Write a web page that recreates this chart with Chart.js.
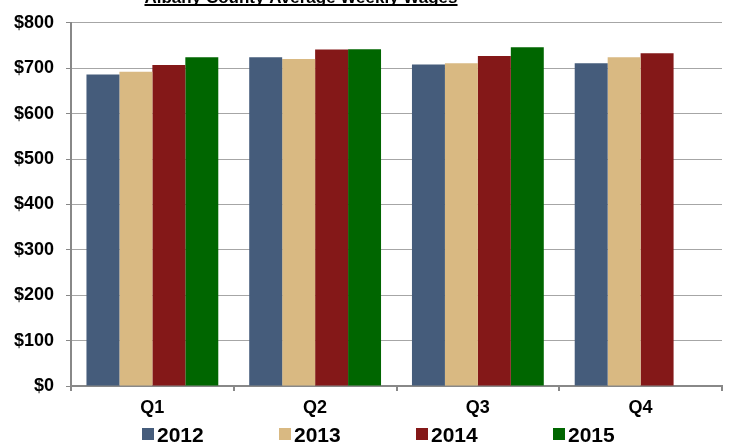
<!DOCTYPE html>
<html>
<head>
<meta charset="utf-8">
<script src="https://cdn.jsdelivr.net/npm/chart.js@4/dist/chart.umd.min.js"></script>
<style>
  html, body { margin: 0; padding: 0; background: #ffffff; }
  #wrap { width: 731px; height: 445px; position: relative; }
</style>
</head>
<body>
<div id="wrap"><canvas id="c" width="731" height="445"></canvas></div>
<script>
const titleText = "Albany County Average Weekly Wages";
const categories = ["Q1", "Q2", "Q3", "Q4"];
const seriesNames = ["2012", "2013", "2014", "2015"];
const values2012 = [686, 724, 708, 711];
const values2013 = [692, 720, 711, 724];
const values2014 = [707, 741, 727, 733];
const values2015 = [724, 742, 746, null];
const seriesColors = ["#455c7b", "#d9b982", "#841818", "#006600"];
const yMin = 0, yMax = 800, yStep = 100;

const FONT = "'Liberation Sans', Arial, Helvetica, sans-serif";

const titlePlugin = {
  id: 'topTitle',
  afterDraw(chart) {
    const ctx = chart.ctx;
    ctx.save();
    ctx.font = "bold 17px " + FONT;
    ctx.fillStyle = "#000";
    ctx.textAlign = "center";
    ctx.textBaseline = "alphabetic";
    const cx = 301;
    ctx.fillText(titleText, cx, 2.5);
    const w = ctx.measureText(titleText).width;
    ctx.fillRect(cx - w / 2, 4, w, 2);
    ctx.restore();
  }
};

const legendPlugin = {
  id: 'bottomLegend',
  afterDraw(chart) {
    const ctx = chart.ctx;
    ctx.save();
    ctx.font = "bold 21px " + FONT;
    ctx.textAlign = "left";
    ctx.textBaseline = "alphabetic";
    chart.data.datasets.forEach((ds, i) => {
      const x = 142 + i * 137;
      ctx.fillStyle = ds.backgroundColor;
      ctx.fillRect(x, 428, 12, 12);
      ctx.fillStyle = "#000";
      ctx.fillText(ds.label, x + 15, 441.5);
    });
    ctx.restore();
  }
};

const allValues = [values2012, values2013, values2014, values2015];

new Chart(document.getElementById('c'), {
  type: 'bar',
  data: {
    labels: categories,
    datasets: seriesNames.map((name, i) => ({
      label: name,
      data: allValues[i],
      backgroundColor: seriesColors[i],
      borderWidth: 0,
      categoryPercentage: 0.81,
      barPercentage: 1.0
    }))
  },
  options: {
    responsive: false,
    animation: false,
    devicePixelRatio: 1,
    layout: { padding: { left: 0, right: 9, top: 18, bottom: 0 } },
    plugins: {
      legend: { display: false },
      title: { display: false },
      tooltip: { enabled: false }
    },
    scales: {
      x: {
        afterFit(scale) { scale.height = 59; },
        grid: {
          display: true,
          drawOnChartArea: false,
          drawTicks: true,
          tickLength: 5,
          color: "#888888",
          lineWidth: 2,
          offset: true
        },
        border: { display: true, color: "#888888", width: 2 },
        ticks: {
          color: "#000",
          font: { family: FONT, size: 18, weight: 'bold' },
          padding: 6,
          maxRotation: 0
        }
      },
      y: {
        min: yMin,
        max: yMax,
        afterFit(scale) { scale.width = 71; },
        grid: {
          color: "#a6a6a6",
          lineWidth: 1,
          drawTicks: true,
          tickLength: 5,
          tickColor: "#888888"
        },
        border: { display: true, color: "#888888", width: 2 },
        ticks: {
          stepSize: yStep,
          color: "#000",
          font: { family: FONT, size: 18, weight: 'bold' },
          padding: 12,
          callback: v => "$" + v
        }
      }
    }
  },
  plugins: [titlePlugin, legendPlugin]
});
</script>
</body>
</html>
